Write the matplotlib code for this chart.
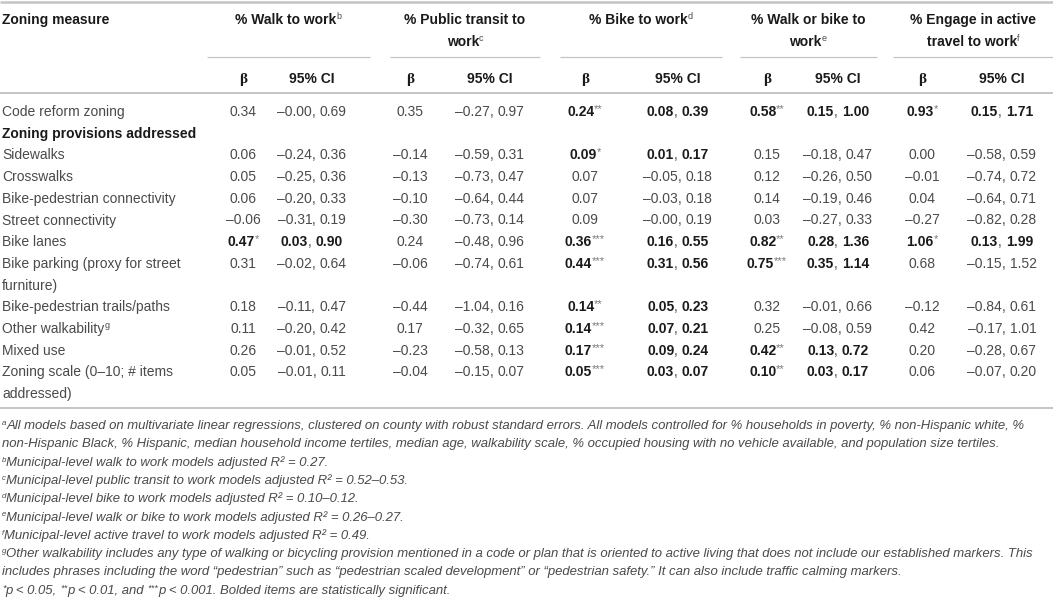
import matplotlib.pyplot as plt
from matplotlib import rcParams

rcParams['font.family'] = ['Liberation Sans', 'DejaVu Sans']

# ---- data ----
row_labels = ['Code reform zoning', 'Sidewalks', 'Crosswalks', 'Bike-pedestrian connectivity',
              'Street connectivity', 'Bike lanes', 'Bike parking (proxy for street\nfurniture)',
              'Bike-pedestrian trails/paths', 'Other walkability', 'Mixed use',
              'Zoning scale (0–10; # items\naddressed)']
row_label_sup = ['', '', '', '', '', '', '', '', 'g', '', '']
section_label = 'Zoning provisions addressed'

outcomes = ['% Walk to work', '% Public transit to\nwork', '% Bike to work',
            '% Walk or bike to\nwork', '% Engage in active\ntravel to work']
outcome_sup = ['b', 'c', 'd', 'e', 'f']

walk_beta = [0.34, 0.06, 0.05, 0.06, -0.06, 0.47, 0.31, 0.18, 0.11, 0.26, 0.05]
walk_lo = [-0.00, -0.24, -0.25, -0.20, -0.31, 0.03, -0.02, -0.11, -0.20, -0.01, -0.01]
walk_hi = [0.69, 0.36, 0.36, 0.33, 0.19, 0.90, 0.64, 0.47, 0.42, 0.52, 0.11]
walk_stars = [0, 0, 0, 0, 0, 1, 0, 0, 0, 0, 0]

transit_beta = [0.35, -0.14, -0.13, -0.10, -0.30, 0.24, -0.06, -0.44, 0.17, -0.23, -0.04]
transit_lo = [-0.27, -0.59, -0.73, -0.64, -0.73, -0.48, -0.74, -1.04, -0.32, -0.58, -0.15]
transit_hi = [0.97, 0.31, 0.47, 0.44, 0.14, 0.96, 0.61, 0.16, 0.65, 0.13, 0.07]
transit_stars = [0, 0, 0, 0, 0, 0, 0, 0, 0, 0, 0]

bike_beta = [0.24, 0.09, 0.07, 0.07, 0.09, 0.36, 0.44, 0.14, 0.14, 0.17, 0.05]
bike_lo = [0.08, 0.01, -0.05, -0.03, -0.00, 0.16, 0.31, 0.05, 0.07, 0.09, 0.03]
bike_hi = [0.39, 0.17, 0.18, 0.18, 0.19, 0.55, 0.56, 0.23, 0.21, 0.24, 0.07]
bike_stars = [2, 1, 0, 0, 0, 3, 3, 2, 3, 3, 3]

wob_beta = [0.58, 0.15, 0.12, 0.14, 0.03, 0.82, 0.75, 0.32, 0.25, 0.42, 0.10]
wob_lo = [0.15, -0.18, -0.26, -0.19, -0.27, 0.28, 0.35, -0.01, -0.08, 0.13, 0.03]
wob_hi = [1.00, 0.47, 0.50, 0.46, 0.33, 1.36, 1.14, 0.66, 0.59, 0.72, 0.17]
wob_stars = [2, 0, 0, 0, 0, 2, 3, 0, 0, 2, 2]

active_beta = [0.93, 0.00, -0.01, 0.04, -0.27, 1.06, 0.68, -0.12, 0.42, 0.20, 0.06]
active_lo = [0.15, -0.58, -0.74, -0.64, -0.82, 0.13, -0.15, -0.84, -0.17, -0.28, -0.07]
active_hi = [1.71, 0.59, 0.72, 0.71, 0.28, 1.99, 1.52, 0.61, 1.01, 0.67, 0.20]
active_stars = [1, 0, 0, 0, 0, 1, 0, 0, 0, 0, 0]

betas = [walk_beta, transit_beta, bike_beta, wob_beta, active_beta]
los = [walk_lo, transit_lo, bike_lo, wob_lo, active_lo]
his = [walk_hi, transit_hi, bike_hi, wob_hi, active_hi]
stars = [walk_stars, transit_stars, bike_stars, wob_stars, active_stars]

footnotes = [
    ('a', 'All models based on multivariate linear regressions, clustered on county with robust standard errors. '
          'All models controlled for % households in poverty, % non-Hispanic white, %'),
    ('', 'non-Hispanic Black, % Hispanic, median household income tertiles, median age, walkability scale, '
         '% occupied housing with no vehicle available, and population size tertiles.'),
    ('b', 'Municipal-level walk to work models adjusted R² = 0.27.'),
    ('c', 'Municipal-level public transit to work models adjusted R² = 0.52–0.53.'),
    ('d', 'Municipal-level bike to work models adjusted R² = 0.10–0.12.'),
    ('e', 'Municipal-level walk or bike to work models adjusted R² = 0.26–0.27.'),
    ('f', 'Municipal-level active travel to work models adjusted R² = 0.49.'),
    ('g', 'Other walkability includes any type of walking or bicycling provision mentioned in a code or plan '
          'that is oriented to active living that does not include our established markers. This'),
    ('', 'includes phrases including the word “pedestrian” such as “pedestrian scaled development” '
         'or “pedestrian safety.” It can also include traffic calming markers.'),
    ('', '*p < 0.05, **p < 0.01, and ***p < 0.001. Bolded items are statistically significant.'),
]

# ---- layout (pixels) ----
beta_x = [243, 410, 585, 767, 922]
ci_x = [312, 490, 678, 838, 1002]
head_x = [288, 465, 641, 808, 973]
span = [(207, 370), (390, 540), (560, 722), (740, 877), (893, 1053)]

GRAY = '#4a4a4a'
DARK = '#1a1a1a'
RULE = '#c4c4c4'
SIZE = 10

fig = plt.figure(figsize=(10.53, 6.0), dpi=100)
ax = fig.add_axes([0, 0, 1, 1])
ax.set_xlim(0, 1053)
ax.set_ylim(600, 0)
ax.axis('off')
renderer = fig.canvas.get_renderer()


def seg_props(g):
    return dict(fontsize=g.get('size', SIZE), fontweight=g.get('weight', 'normal'),
                fontstyle=g.get('style', 'normal'), color=g.get('color', GRAY),
                family=g.get('family', ['Liberation Sans', 'DejaVu Sans']))


def seg_width(s, props):
    t = ax.text(0, 0, '|' + s + '|', **props)
    w1 = t.get_window_extent(renderer).width
    t.set_text('||')
    w2 = t.get_window_extent(renderer).width
    t.remove()
    return w1 - w2


def rich(x, y, segs, ha='left'):
    widths = [seg_width(g['s'], seg_props(g)) for g in segs]
    total = sum(widths)
    x0 = x - total / 2 if ha == 'center' else x
    for g, w in zip(segs, widths):
        ax.text(x0, y - g.get('rise', 0), g['s'], ha='left', va='baseline', **seg_props(g))
        x0 += w
    return total


def fmt(v):
    return f'{v:.2f}'.replace('-', '–')


# ---- rules ----
ax.plot([0, 1053], [1.5, 1.5], color=RULE, lw=1.8, solid_capstyle='butt')
for a, b in span:
    ax.plot([a, b], [57, 57], color=RULE, lw=0.9, solid_capstyle='butt')
ax.plot([0, 1053], [93, 93], color=RULE, lw=1.4, solid_capstyle='butt')
ax.plot([0, 1053], [408, 408], color=RULE, lw=1.4, solid_capstyle='butt')

# ---- header ----
BL = 5
rich(2, 19 + BL, [dict(s='Zoning measure', weight='bold', color=DARK)])
for k, name in enumerate(outcomes):
    lines = name.split('\n')
    for j, ln in enumerate(lines):
        segs = [dict(s=ln, weight='bold', color=DARK)]
        if j == len(lines) - 1:
            segs.append(dict(s=outcome_sup[k], size=6.5, rise=5, color=GRAY))
        rich(head_x[k], 19 + 22 * j + BL, segs, ha='center')
    rich(beta_x[k], 78 + BL, [dict(s='β', weight='bold', color=DARK, size=11,
                                   family=['Liberation Serif', 'DejaVu Serif'])], ha='center')
    rich(ci_x[k], 78 + BL, [dict(s='95% CI', weight='bold', color=DARK)], ha='center')

# ---- body ----
PITCH = 21.7
line_no = 0
for i, label in enumerate(row_labels):
    y = 111 + PITCH * line_no
    lab_lines = label.split('\n')
    for j, ln in enumerate(lab_lines):
        segs = [dict(s=ln)]
        if row_label_sup[i] and j == len(lab_lines) - 1:
            segs.append(dict(s=row_label_sup[i], size=6.5, rise=5))
        rich(2, y + PITCH * j + BL, segs)
    for k in range(5):
        sig = stars[k][i] > 0
        w = 'bold' if sig else 'normal'
        c = DARK if sig else GRAY
        bsegs = [dict(s=fmt(betas[k][i]), weight=w, color=c)]
        if sig:
            bsegs.append(dict(s='*' * stars[k][i], size=8, rise=4, color='#777777'))
        rich(beta_x[k], y + BL, bsegs, ha='center')
        rich(ci_x[k], y + BL, [dict(s=fmt(los[k][i]), weight=w, color=c),
                               dict(s=', ', color=GRAY),
                               dict(s=fmt(his[k][i]), weight=w, color=c)], ha='center')
    line_no += len(lab_lines)
    if i == 0:
        rich(2, 111 + PITCH * line_no + BL, [dict(s=section_label, weight='bold', color=DARK)])
        line_no += 1

# ---- footnotes ----
probe = seg_width(footnotes[0][1], seg_props(dict(s='', style='italic', size=10)))
FSIZE = 10 * 1030 / probe
for n, (sup, txt) in enumerate(footnotes):
    y = 425 + 18.3 * n + 4
    segs = []
    if sup:
        segs.append(dict(s=sup, size=FSIZE * 0.6, style='italic', rise=4))
    if txt.startswith('*p'):
        segs = [dict(s='*', size=FSIZE * 0.7, style='italic', rise=3),
                dict(s='p < 0.05, ', size=FSIZE, style='italic'),
                dict(s='**', size=FSIZE * 0.7, style='italic', rise=3),
                dict(s='p < 0.01, and ', size=FSIZE, style='italic'),
                dict(s='***', size=FSIZE * 0.7, style='italic', rise=3),
                dict(s='p < 0.001. Bolded items are statistically significant.', size=FSIZE, style='italic')]
    else:
        segs.append(dict(s=txt, size=FSIZE, style='italic'))
    rich(2, y, segs)

fig.savefig('out.png', dpi=100)
